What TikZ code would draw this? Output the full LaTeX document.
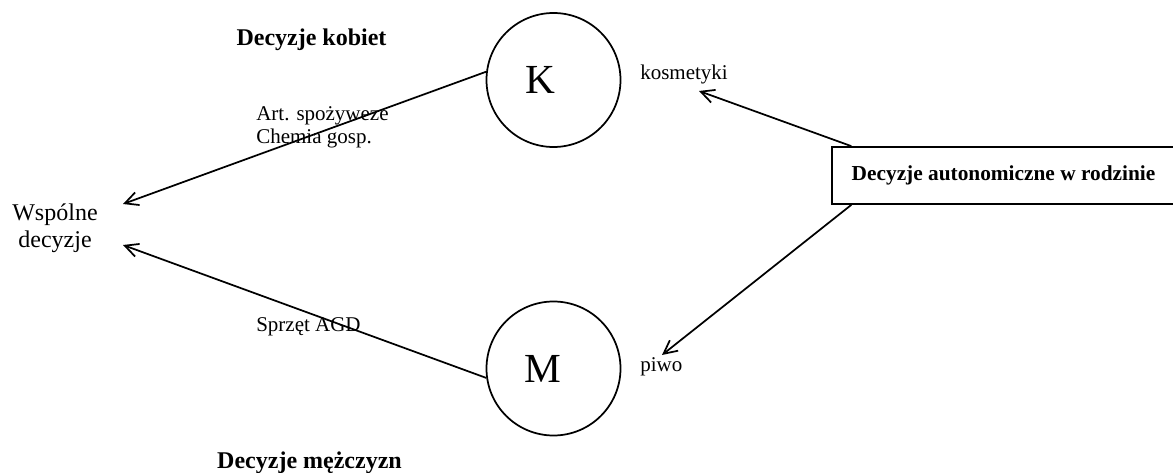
\documentclass[tikz,border=0pt]{standalone}
\usepackage{fontspec}
\setmainfont{Liberation Serif}
\usetikzlibrary{arrows.meta}

\begin{document}
\begin{tikzpicture}[x=0.75pt,y=-0.75pt,
    arr/.style={line width=1.3pt,-{Straight Barb[length=10pt,width=10pt,line width=1.3pt]}},
    osoba/.style={draw,circle,line width=1.3pt,minimum size=100.5pt,inner sep=0pt,
        font=\fontsize{31}{34}\selectfont},
    napis/.style={inner sep=0pt,font=\fontsize{15.75}{17.25}\selectfont},
    tytul/.style={inner sep=0pt,font=\fontsize{18}{20.25}\selectfont\bfseries}]
\useasboundingbox (0,0) rectangle (1173,473);

% Circles for women and men
\node[osoba] (K) at (553.5,80) {K\kern19.5pt};
\node[osoba] (M) at (553.5,368.5) {M\kern15.75pt};

% Headings
\node[tytul,anchor=base] (kob) at (311.5,46) {Decyzje kobiet};
\node[tytul,anchor=base] (mez) at (309.5,468) {Decyzje mężczyzn};

% Joint decisions
\node[inner sep=0pt,align=center,font=\fontsize{18}{20.25}\selectfont] (wsp) at (55,228) {Wspólne\\decyzje};

% Autonomous decisions box
\node[draw,line width=1.3pt,minimum width=257pt,minimum height=42.75pt,
    font=\fontsize{16}{18}\selectfont\bfseries] (auto) at (1003.5,175.5) {Decyzje autonomiczne w rodzinie};

% Product labels
\node[napis,anchor=north west,align=left] (spoz) at (256,106) {Art. spożyweze\\Chemia gosp.};
\node[napis,anchor=base west] (agd) at (256,332) {Sprzęt AGD};
\node[napis,anchor=base west] (kos) at (640,80) {kosmetyki};
\node[napis,anchor=base west] (piwo) at (640,372) {piwo};

% Arrow tips
\coordinate (wspG) at (123,204);
\coordinate (wspD) at (123,245);
\coordinate (kosT) at (699,91);
\coordinate (piwoT) at (662,355);

% Arrows
\draw[arr] (K.173) -- (wspG);
\draw[arr] (M.188) -- (wspD);
\draw[arr] ([xshift=15pt]auto.north west) -- (kosT);
\draw[arr] ([xshift=15pt]auto.south west) -- (piwoT);
\end{tikzpicture}
\end{document}
